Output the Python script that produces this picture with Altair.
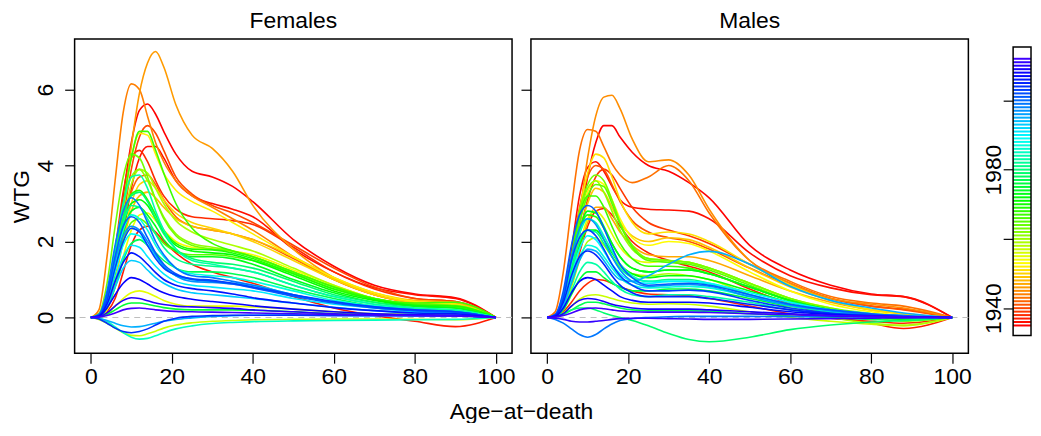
import altair as alt
import pandas as pd

# ---------------- data ----------------
AGES_F = [0, 2, 4, 6, 8, 10, 12, 14, 16, 18, 21, 25, 30, 35, 40, 50, 60, 70, 80, 90, 100]
AGES_M = [0, 2, 4, 6, 8, 10, 12, 14, 16, 18, 21, 25, 30, 35, 40, 50, 60, 70, 80, 88, 100]

X_TICKS = [0, 20, 40, 60, 80, 100]
Y_TICKS = [0, 2, 4, 6]
CB_TICKS = [1940, 1960, 1980, 2000]
CB_LABELLED = [1940, 1980]
COLORBAR_YEARS = list(range(1935, 2013))
CB_FRAME_LO = [1932.1]
CB_FRAME_HI = [2015.4]

# Females
F1935 = [0, 0.1, 0.5, 1.6, 3.2, 4.6, 5.45, 5.62, 5.35, 4.9, 4.3, 3.85, 3.7, 3.45, 3.05, 2.05, 1.35, 0.85, 0.62, 0.52, 0]
F1936 = [0, 0.05, 0.3, 1.0, 2.2, 3.4, 4.2, 4.5, 4.5, 4.2, 3.6, 3.2, 3.0, 2.85, 2.65, 1.8, 1.2, 0.78, 0.6, 0.5, 0]
F1937 = [0, 0.02, 0.15, 0.5, 1.2, 1.9, 2.3, 2.4, 2.25, 2.0, 1.7, 1.4, 1.2, 1.05, 0.9, 0.55, 0.25, 0.05, -0.1, -0.24, 0]
F1938 = [0, 0.08, 0.6, 1.8, 3.3, 4.2, 4.4, 4.1, 3.6, 3.2, 2.85, 2.65, 2.6, 2.55, 2.45, 1.85, 1.2, 0.75, 0.5, 0.42, 0]
F1940 = [0, 0.05, 0.35, 1.2, 2.6, 3.9, 4.75, 5.05, 4.85, 4.4, 3.7, 3.25, 2.95, 2.75, 2.5, 1.9, 1.3, 0.8, 0.5, 0.42, 0]
F1942 = [0, 0.05, 0.4, 1.3, 2.5, 3.3, 3.7, 3.75, 3.5, 3.1, 2.65, 2.4, 2.3, 2.2, 2.05, 1.55, 1.0, 0.6, 0.4, 0.35, 0]
F1944 = [0, 0.2, 1.6, 3.6, 5.4, 6.15, 6.0, 5.3, 4.6, 4.1, 3.6, 3.2, 2.9, 2.6, 2.3, 1.6, 1.0, 0.6, 0.4, 0.35, 0]
F1946 = [0, 0.03, 0.3, 1.2, 2.8, 4.5, 5.9, 6.7, 7.0, 6.6, 5.6, 4.8, 4.45, 3.85, 2.95, 1.8, 1.05, 0.6, 0.4, 0.38, 0]
F1948 = [0, 0.04, 0.3, 1.0, 2.0, 2.8, 3.2, 3.3, 3.15, 2.9, 2.6, 2.4, 2.3, 2.2, 2.05, 1.6, 1.05, 0.65, 0.45, 0.4, 0]
F1950 = [0, 0.04, 0.3, 1.0, 2.1, 3.0, 3.5, 3.6, 3.4, 3.1, 2.75, 2.5, 2.35, 2.2, 2.0, 1.5, 1.0, 0.6, 0.4, 0.35, 0]
F1952 = [0, 0.05, 0.4, 1.4, 2.9, 4.2, 4.85, 4.8, 4.3, 3.8, 3.35, 3.05, 2.8, 2.5, 2.2, 1.6, 1.05, 0.65, 0.42, 0.35, 0]
F1954 = [0, 0.03, 0.2, 0.8, 1.6, 2.3, 2.7, 2.75, 2.55, 2.3, 2.0, 1.85, 1.8, 1.75, 1.65, 1.25, 0.85, 0.5, 0.32, 0.27, 0]
F1955 = [0, 0.02, 0.1, 0.3, 0.5, 0.65, 0.7, 0.65, 0.55, 0.45, 0.35, 0.3, 0.3, 0.3, 0.28, 0.22, 0.15, 0.1, 0.08, 0.05, 0]
F1957 = [0, -0.05, -0.15, -0.28, -0.4, -0.47, -0.48, -0.43, -0.36, -0.28, -0.2, -0.14, -0.1, -0.08, -0.06, -0.05, -0.04, -0.04, -0.05, -0.06, 0]
F1959 = [0, 0.05, 0.35, 1.2, 2.5, 3.5, 3.9, 3.8, 3.4, 3.0, 2.55, 2.25, 2.05, 1.9, 1.75, 1.3, 0.85, 0.5, 0.35, 0.3, 0]
F1961 = [0, 0.06, 0.5, 1.6, 2.9, 3.7, 3.9, 3.6, 3.1, 2.65, 2.2, 1.95, 1.85, 1.75, 1.6, 1.2, 0.8, 0.5, 0.35, 0.32, 0]
F1963 = [0, 0.1, 0.9, 2.4, 3.7, 4.3, 4.2, 3.7, 3.1, 2.6, 2.15, 1.9, 1.8, 1.75, 1.6, 1.2, 0.8, 0.5, 0.35, 0.3, 0]
F1965 = [0, 0.05, 0.4, 1.2, 2.0, 2.5, 2.6, 2.45, 2.2, 1.95, 1.75, 1.65, 1.65, 1.6, 1.5, 1.15, 0.75, 0.48, 0.35, 0.3, 0]
F1967 = [0, 0.06, 0.5, 1.6, 3.0, 4.2, 4.9, 4.9, 4.4, 3.8, 3.0, 2.35, 1.95, 1.75, 1.6, 1.2, 0.8, 0.5, 0.38, 0.4, 0]
F1969 = [0, 0.06, 0.5, 1.5, 2.6, 3.25, 3.35, 3.1, 2.7, 2.3, 1.95, 1.8, 1.78, 1.7, 1.55, 1.15, 0.75, 0.48, 0.33, 0.3, 0]
F1971 = [0, 0.05, 0.4, 1.3, 2.4, 3.0, 3.1, 2.95, 2.6, 2.25, 1.9, 1.75, 1.7, 1.65, 1.5, 1.1, 0.7, 0.45, 0.3, 0.25, 0]
F1973 = [0, 0.05, 0.4, 1.2, 2.2, 2.8, 2.9, 2.7, 2.4, 2.05, 1.75, 1.6, 1.6, 1.55, 1.4, 1.0, 0.65, 0.4, 0.3, 0.25, 0]
F1975 = [0, 0.01, 0.08, 0.2, 0.32, 0.38, 0.38, 0.35, 0.3, 0.26, 0.22, 0.2, 0.2, 0.2, 0.19, 0.15, 0.1, 0.07, 0.05, 0.04, 0]
F1977 = [0, 0.03, 0.25, 0.8, 1.5, 1.95, 2.05, 1.9, 1.7, 1.5, 1.3, 1.2, 1.2, 1.15, 1.05, 0.75, 0.5, 0.3, 0.2, 0.15, 0]
F1979 = [0, 0.06, 0.5, 1.5, 2.6, 3.2, 3.3, 3.05, 2.6, 2.2, 1.8, 1.55, 1.45, 1.4, 1.3, 0.95, 0.6, 0.4, 0.25, 0.2, 0]
F1981 = [0, 0.07, 0.6, 1.6, 2.5, 2.95, 2.9, 2.6, 2.2, 1.85, 1.55, 1.4, 1.35, 1.3, 1.2, 0.85, 0.55, 0.35, 0.23, 0.18, 0]
F1983 = [0, 0.07, 0.6, 1.8, 3.0, 3.7, 3.75, 3.4, 2.8, 2.3, 1.8, 1.5, 1.4, 1.3, 1.2, 0.85, 0.55, 0.35, 0.25, 0.2, 0]
F1985 = [0, -0.02, -0.1, -0.25, -0.4, -0.52, -0.57, -0.55, -0.48, -0.4, -0.3, -0.22, -0.16, -0.13, -0.11, -0.09, -0.08, -0.07, -0.06, -0.05, 0]
F1987 = [0, 0.06, 0.5, 1.4, 2.3, 2.7, 2.6, 2.3, 1.9, 1.6, 1.3, 1.15, 1.1, 1.05, 0.95, 0.7, 0.45, 0.3, 0.2, 0.15, 0]
F1989 = [0, 0.05, 0.45, 1.2, 1.9, 2.2, 2.15, 1.9, 1.6, 1.35, 1.1, 1.0, 0.95, 0.9, 0.85, 0.6, 0.4, 0.27, 0.18, 0.14, 0]
F1991 = [0, 0.05, 0.35, 1.0, 1.6, 1.9, 1.85, 1.6, 1.35, 1.15, 0.95, 0.85, 0.8, 0.75, 0.7, 0.5, 0.35, 0.25, 0.15, 0.12, 0]
F1993 = [0, 0.04, 0.3, 0.8, 1.3, 1.5, 1.45, 1.25, 1.05, 0.9, 0.75, 0.65, 0.6, 0.55, 0.5, 0.38, 0.27, 0.18, 0.12, 0.1, 0]
F1995 = [0, -0.02, -0.08, -0.15, -0.22, -0.25, -0.24, -0.2, -0.15, -0.1, -0.05, -0.01, 0.03, 0.05, 0.06, 0.07, 0.06, 0.05, 0.05, 0.04, 0]
F1997 = [0, 0.06, 0.55, 1.5, 2.15, 2.4, 2.3, 2.0, 1.65, 1.35, 1.1, 0.95, 0.92, 0.88, 0.8, 0.58, 0.4, 0.27, 0.18, 0.14, 0]
F1999 = [0, 0.08, 0.7, 1.9, 2.8, 3.15, 2.95, 2.5, 2.0, 1.65, 1.3, 1.1, 1.05, 0.95, 0.85, 0.6, 0.4, 0.28, 0.2, 0.15, 0]
F2001 = [0, 0.07, 0.6, 1.6, 2.4, 2.65, 2.5, 2.1, 1.7, 1.4, 1.15, 1.0, 0.95, 0.88, 0.78, 0.56, 0.38, 0.25, 0.18, 0.14, 0]
F2003 = [0, 0.05, 0.45, 1.3, 2.0, 2.35, 2.25, 1.9, 1.55, 1.3, 1.12, 1.02, 0.98, 0.9, 0.8, 0.6, 0.42, 0.28, 0.2, 0.15, 0]
F2004 = [0, -0.04, -0.15, -0.28, -0.37, -0.4, -0.37, -0.3, -0.2, -0.1, -0.02, 0.03, 0.05, 0.06, 0.06, 0.06, 0.05, 0.05, 0.05, 0.05, 0]
F2006 = [0, 0.04, 0.35, 0.95, 1.45, 1.7, 1.6, 1.4, 1.18, 1.0, 0.85, 0.76, 0.7, 0.62, 0.52, 0.38, 0.26, 0.18, 0.12, 0.1, 0]
F2008 = [0, 0.03, 0.25, 0.6, 0.9, 1.05, 1.0, 0.88, 0.75, 0.65, 0.55, 0.48, 0.42, 0.37, 0.31, 0.22, 0.15, 0.1, 0.07, 0.06, 0]
F2010 = [0, 0.02, 0.12, 0.3, 0.45, 0.52, 0.5, 0.44, 0.38, 0.34, 0.3, 0.28, 0.26, 0.24, 0.2, 0.15, 0.1, 0.08, 0.06, 0.05, 0]
F2012 = [0, 0.01, 0.05, 0.12, 0.2, 0.24, 0.25, 0.23, 0.2, 0.18, 0.16, 0.15, 0.14, 0.13, 0.12, 0.1, 0.08, 0.06, 0.05, 0.04, 0]

# Males
M1935 = [0, 0.04, 0.3, 1.1, 2.4, 3.7, 4.6, 5.05, 5.05, 4.75, 4.35, 4.0, 3.85, 3.55, 3.15, 1.9, 1.25, 0.85, 0.62, 0.55, 0]
M1936 = [0, 0.08, 0.6, 1.8, 3.2, 3.95, 4.1, 3.85, 3.45, 3.1, 2.9, 2.85, 2.83, 2.8, 2.6, 1.7, 1.1, 0.78, 0.6, 0.55, 0]
M1937 = [0, 0.04, 0.3, 0.9, 1.7, 2.4, 2.8, 2.87, 2.7, 2.4, 2.0, 1.7, 1.5, 1.35, 1.2, 0.75, 0.35, 0.05, -0.15, -0.29, 0]
M1938 = [0, 0.02, 0.15, 0.4, 0.7, 0.9, 1.0, 0.98, 0.9, 0.8, 0.7, 0.62, 0.6, 0.58, 0.5, 0.3, 0.1, -0.02, -0.1, -0.15, 0]
M1939 = [0, 0.05, 0.35, 1.1, 2.2, 3.1, 3.7, 3.9, 3.75, 3.4, 2.9, 2.5, 2.3, 2.15, 1.95, 1.4, 0.9, 0.5, 0.3, 0.22, 0]
M1941 = [0, 0.06, 0.5, 1.6, 2.9, 3.7, 4.0, 3.9, 3.5, 3.05, 2.55, 2.25, 2.1, 2.0, 1.8, 1.3, 0.85, 0.5, 0.3, 0.2, 0]
M1943 = [0, 0.15, 1.2, 2.9, 4.4, 4.95, 4.9, 4.5, 4.05, 3.75, 3.55, 3.7, 4.0, 3.6, 2.75, 1.5, 0.95, 0.55, 0.38, 0.3, 0]
M1945 = [0, 0.03, 0.3, 1.2, 2.7, 4.2, 5.3, 5.8, 5.85, 5.5, 4.7, 4.1, 4.15, 3.75, 2.85, 1.5, 0.9, 0.5, 0.35, 0.25, 0]
M1947 = [0, 0.04, 0.3, 0.9, 1.8, 2.5, 2.9, 2.9, 2.6, 2.25, 1.9, 1.65, 1.6, 1.6, 1.5, 1.1, 0.7, 0.4, 0.2, 0.1, 0]
M1949 = [0, 0.05, 0.35, 1.1, 2.2, 3.0, 3.4, 3.3, 2.9, 2.5, 2.15, 2.0, 2.1, 2.05, 1.85, 1.3, 0.8, 0.45, 0.2, 0.1, 0]
M1951 = [0, 0.05, 0.4, 1.4, 2.8, 3.8, 4.3, 4.2, 3.7, 3.1, 2.5, 2.2, 2.25, 2.2, 2.0, 1.4, 0.85, 0.45, 0.2, 0.1, 0]
M1953 = [0, 0.05, 0.4, 1.3, 2.5, 3.3, 3.6, 3.5, 3.1, 2.6, 2.1, 1.9, 2.0, 1.95, 1.75, 1.2, 0.7, 0.35, 0.15, 0.05, 0]
M1955 = [0, 0.04, 0.3, 1.0, 1.9, 2.6, 2.8, 2.6, 2.2, 1.85, 1.55, 1.45, 1.5, 1.45, 1.3, 0.9, 0.5, 0.25, 0.05, -0.05, 0]
M1957 = [0, 0.02, 0.12, 0.3, 0.48, 0.58, 0.6, 0.56, 0.5, 0.44, 0.38, 0.35, 0.36, 0.35, 0.3, 0.15, 0.0, -0.1, -0.18, -0.22, 0]
M1959 = [0, 0.03, 0.25, 0.8, 1.5, 2.0, 2.1, 1.9, 1.6, 1.35, 1.15, 1.1, 1.15, 1.1, 1.0, 0.6, 0.25, 0.0, -0.15, -0.2, 0]
M1961 = [0, 0.05, 0.45, 1.5, 2.7, 3.4, 3.6, 3.3, 2.8, 2.3, 1.8, 1.55, 1.5, 1.45, 1.3, 0.9, 0.5, 0.2, 0.0, -0.1, 0]
M1963 = [0, 0.05, 0.45, 1.5, 2.8, 3.5, 3.75, 3.6, 3.1, 2.5, 1.9, 1.55, 1.5, 1.45, 1.3, 0.9, 0.5, 0.25, 0.1, 0.0, 0]
M1965 = [0, 0.05, 0.4, 1.3, 2.5, 3.2, 3.5, 3.45, 3.0, 2.45, 1.85, 1.5, 1.45, 1.4, 1.25, 0.85, 0.45, 0.2, 0.05, -0.05, 0]
M1967 = [0, 0.06, 0.5, 1.6, 2.7, 3.2, 3.2, 2.9, 2.4, 1.95, 1.55, 1.35, 1.35, 1.3, 1.15, 0.8, 0.45, 0.2, 0.05, -0.05, 0]
M1969 = [0, 0.05, 0.45, 1.4, 2.3, 2.7, 2.65, 2.35, 1.95, 1.6, 1.3, 1.2, 1.25, 1.25, 1.15, 0.8, 0.45, 0.2, 0.05, 0.0, 0]
M1971 = [0, 0.04, 0.35, 1.1, 1.9, 2.3, 2.3, 2.05, 1.7, 1.4, 1.15, 1.05, 1.1, 1.1, 1.0, 0.7, 0.4, 0.2, 0.05, -0.05, 0]
M1973 = [0, 0.05, 0.4, 1.3, 2.3, 2.8, 2.75, 2.4, 1.95, 1.6, 1.3, 1.2, 1.25, 1.25, 1.15, 0.8, 0.45, 0.2, 0.05, 0.0, 0]
M1975 = [0, 0.03, 0.2, 0.6, 1.0, 1.2, 1.2, 1.05, 0.9, 0.8, 0.7, 0.7, 0.75, 0.75, 0.7, 0.5, 0.3, 0.15, 0.05, 0.0, 0]
M1977 = [0, 0.01, 0.08, 0.2, 0.32, 0.4, 0.4, 0.36, 0.3, 0.25, 0.2, 0.18, 0.18, 0.18, 0.16, 0.1, 0.04, 0.0, -0.05, -0.08, 0]
M1979 = [0, 0.02, 0.1, 0.2, 0.25, 0.25, 0.2, 0.12, 0.05, 0.0, -0.08, -0.22, -0.42, -0.58, -0.64, -0.52, -0.32, -0.2, -0.12, -0.08, 0]
M1981 = [0, 0.05, 0.4, 1.2, 2.0, 2.3, 2.25, 1.95, 1.6, 1.3, 1.05, 0.95, 1.0, 1.0, 0.9, 0.6, 0.3, 0.15, 0.05, 0.0, 0]
M1983 = [0, 0.03, 0.25, 0.7, 1.2, 1.45, 1.4, 1.2, 0.95, 0.75, 0.6, 0.55, 0.6, 0.6, 0.55, 0.4, 0.2, 0.1, 0.05, 0.0, 0]
M1985 = [0, 0.06, 0.5, 1.4, 2.2, 2.6, 2.5, 2.15, 1.75, 1.4, 1.1, 0.95, 0.95, 0.95, 0.88, 0.6, 0.35, 0.18, 0.08, 0.03, 0]
M1987 = [0, 0.04, 0.35, 1.0, 1.6, 1.9, 1.85, 1.6, 1.3, 1.05, 0.85, 0.78, 0.8, 0.82, 0.78, 0.55, 0.32, 0.16, 0.07, 0.03, 0]
M1990 = [0, 0.05, 0.4, 1.1, 1.8, 2.15, 2.05, 1.75, 1.4, 1.15, 0.95, 0.9, 0.95, 0.95, 0.9, 0.65, 0.4, 0.2, 0.1, 0.05, 0]
M1995 = [0, 0.04, 0.3, 0.9, 1.5, 1.8, 1.75, 1.5, 1.2, 1.0, 0.95, 1.1, 1.4, 1.65, 1.74, 1.4, 0.82, 0.45, 0.25, 0.12, 0]
M1997 = [0, 0.07, 0.6, 1.6, 2.35, 2.6, 2.45, 2.05, 1.6, 1.25, 0.95, 0.82, 0.85, 0.87, 0.82, 0.55, 0.32, 0.17, 0.08, 0.03, 0]
M1999 = [0, -0.05, -0.15, -0.3, -0.45, -0.52, -0.45, -0.3, -0.17, -0.08, -0.03, 0.0, 0.02, 0.03, 0.03, 0.03, 0.02, 0.02, 0.01, 0.0, 0]
M2001 = [0, 0.08, 0.7, 1.9, 2.7, 2.95, 2.8, 2.35, 1.85, 1.4, 1.05, 0.85, 0.88, 0.9, 0.85, 0.6, 0.35, 0.2, 0.1, 0.05, 0]
M2003 = [0, 0.06, 0.5, 1.5, 2.1, 2.3, 2.15, 1.8, 1.4, 1.1, 0.85, 0.7, 0.7, 0.72, 0.68, 0.45, 0.25, 0.12, 0.06, 0.02, 0]
M2005 = [0, 0.05, 0.4, 1.1, 1.6, 1.75, 1.65, 1.4, 1.1, 0.85, 0.65, 0.55, 0.55, 0.55, 0.5, 0.35, 0.2, 0.1, 0.05, 0.02, 0]
M2007 = [0, 0.03, 0.25, 0.65, 0.95, 1.05, 1.0, 0.85, 0.7, 0.55, 0.45, 0.4, 0.4, 0.4, 0.38, 0.27, 0.15, 0.08, 0.04, 0.02, 0]
M2009 = [0, 0.02, 0.1, 0.3, 0.45, 0.5, 0.48, 0.42, 0.35, 0.3, 0.25, 0.22, 0.22, 0.22, 0.2, 0.15, 0.1, 0.05, 0.03, 0.01, 0]
M2011 = [0, -0.02, -0.05, -0.1, -0.12, -0.12, -0.1, -0.08, -0.05, -0.03, -0.02, -0.02, -0.03, -0.04, -0.05, -0.05, -0.04, -0.03, -0.02, -0.01, 0]
M2012 = [0, 0.01, 0.05, 0.12, 0.2, 0.24, 0.25, 0.23, 0.2, 0.17, 0.15, 0.14, 0.14, 0.14, 0.13, 0.1, 0.07, 0.05, 0.03, 0.02, 0]

FEMALE_CURVES = [
    (1935, F1935), (1936, F1936), (1937, F1937), (1938, F1938), (1940, F1940),
    (1942, F1942), (1944, F1944), (1946, F1946), (1948, F1948), (1950, F1950),
    (1952, F1952), (1954, F1954), (1955, F1955), (1957, F1957), (1959, F1959),
    (1961, F1961), (1963, F1963), (1965, F1965), (1967, F1967), (1969, F1969),
    (1971, F1971), (1973, F1973), (1975, F1975), (1977, F1977), (1979, F1979),
    (1981, F1981), (1983, F1983), (1985, F1985), (1987, F1987), (1989, F1989),
    (1991, F1991), (1993, F1993), (1995, F1995), (1997, F1997), (1999, F1999),
    (2001, F2001), (2003, F2003), (2004, F2004), (2006, F2006), (2008, F2008),
    (2010, F2010), (2012, F2012),
]
MALE_CURVES = [
    (1935, M1935), (1936, M1936), (1937, M1937), (1938, M1938), (1939, M1939),
    (1941, M1941), (1943, M1943), (1945, M1945), (1947, M1947), (1949, M1949),
    (1951, M1951), (1953, M1953), (1955, M1955), (1957, M1957), (1959, M1959),
    (1961, M1961), (1963, M1963), (1965, M1965), (1967, M1967), (1969, M1969),
    (1971, M1971), (1973, M1973), (1975, M1975), (1977, M1977), (1979, M1979),
    (1981, M1981), (1983, M1983), (1985, M1985), (1987, M1987), (1990, M1990),
    (1995, M1995), (1997, M1997), (1999, M1999), (2001, M2001), (2003, M2003),
    (2005, M2005), (2007, M2007), (2009, M2009), (2011, M2011), (2012, M2012),
]


def to_frame(curves, ages):
    rows = []
    for year, vals in curves:
        for a, v in zip(ages, vals):
            rows.append({"year": year, "age": a, "wtg": v})
    return pd.DataFrame(rows)


df_f = to_frame(FEMALE_CURVES, AGES_F)
df_m = to_frame(MALE_CURVES, AGES_M)
df_zero = pd.DataFrame({"v": [0]})
df_cb = pd.DataFrame({"year": COLORBAR_YEARS})
df_frame = pd.DataFrame({"lo": CB_FRAME_LO, "hi": CB_FRAME_HI})

# ---------------- styling ----------------
FONT = "Liberation Sans"
FS = 23
color_scale = alt.Scale(
    domain=[1935, 1953.12, 1971.24, 1989.35, 2007.47, 2012],
    range=["#FF0000", "#FFFF00", "#00FF00", "#00FFFF", "#0000FF", "#4000FF"],
    interpolate="rgb",
)
x_scale = alt.Scale(domain=[-4, 104], nice=False, zero=False)
y_scale = alt.Scale(domain=[-0.94, 7.33], nice=False, zero=False)
cb_scale = alt.Scale(domain=[1927.0, 2017.7], nice=False, zero=False)

PW, PH = 440, 316


def panel(df, title, show_y_labels):
    x_axis = alt.Axis(values=X_TICKS, title=None, labelPadding=2, labelFlush=False)
    if show_y_labels:
        y_axis = alt.Axis(values=Y_TICKS, title="WTG", labelAngle=-90, labelAlign="center",
                          labelBaseline="alphabetic", labelPadding=12, titlePadding=1)
    else:
        y_axis = alt.Axis(values=Y_TICKS, title=None, labels=False)
    zero = alt.Chart(df_zero).mark_rule(color="#BEBEBE", strokeDash=[6, 5], strokeWidth=1.2).encode(
        y=alt.Y("v:Q", scale=y_scale, axis=y_axis)
    )
    lines = alt.Chart(df).mark_line(strokeWidth=1.6, interpolate="monotone").encode(
        x=alt.X("age:Q", scale=x_scale, axis=x_axis),
        y=alt.Y("wtg:Q", scale=y_scale, axis=y_axis),
        color=alt.Color("year:Q", scale=color_scale, legend=None),
        detail="year:N",
    )
    return alt.layer(zero, lines).properties(
        width=PW, height=PH,
        title=alt.TitleParams(title, fontSize=FS, font=FONT, fontWeight="normal", offset=6, color="black"),
    )


females = panel(df_f, "Females", True)
males = panel(df_m, "Males", False)

label_expr = " || ".join(f"datum.value == {v}" for v in CB_LABELLED)
cb_axis = alt.Axis(values=CB_TICKS, format="d", title=None, labelAngle=-90,
                   labelAlign="center", labelBaseline="alphabetic", labelPadding=3,
                   labelExpr=f"({label_expr}) ? datum.label : ''")
cb_lines = alt.Chart(df_cb).mark_rule(strokeWidth=2).encode(
    y=alt.Y("year:Q", scale=cb_scale, axis=cb_axis),
    color=alt.Color("year:Q", scale=color_scale, legend=None),
)
cb_frame = alt.Chart(df_frame).mark_rect(fillOpacity=0, stroke="black", strokeWidth=1.5).encode(
    y=alt.Y("lo:Q", scale=cb_scale, axis=cb_axis),
    y2="hi:Q",
)
colorbar = alt.layer(cb_lines, cb_frame).properties(
    width=18, height=PH, view=alt.ViewBackground(stroke="transparent"),
)

chart = alt.hconcat(
    alt.hconcat(females, males, spacing=3),
    colorbar,
    spacing=9,
).properties(
    title=alt.TitleParams("Age\u2212at\u2212death", orient="bottom", anchor="middle",
                          fontSize=FS, font=FONT, fontWeight="normal", offset=12, color="black"),
    padding={"left": 2, "top": 0, "right": 0, "bottom": -2},
).configure_view(
    stroke="black", strokeWidth=1.5
).configure_axis(
    domain=False, grid=False, tickColor="black", tickSize=10, tickWidth=1.2,
    labelColor="black", labelFontSize=FS, labelFont=FONT,
    titleFont=FONT, titleFontSize=FS, titleFontWeight="normal", titleColor="black",
)

chart.save("out.html", embed_options={"renderer": "svg", "actions": False})
